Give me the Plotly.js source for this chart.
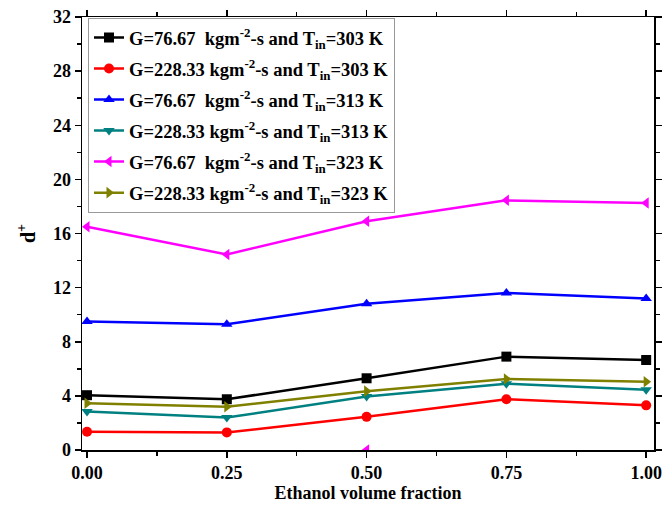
<!DOCTYPE html>
<html>
<head>
<meta charset="utf-8">
<script src="https://cdn.plot.ly/plotly-3.0.1.min.js"></script>
<style>body{margin:0;padding:0;background:#fff}#chart{width:672px;height:511px}</style>
</head>
<body>
<div id="chart"></div>
<script>
var fractions = [0.00, 0.25, 0.50, 0.75, 1.00];
var g7667_t303 = [4.05, 3.75, 5.30, 6.90, 6.65];
var g22833_t303 = [1.35, 1.30, 2.45, 3.75, 3.30];
var g7667_t313 = [9.50, 9.30, 10.80, 11.60, 11.20];
var g22833_t313 = [2.85, 2.40, 3.95, 4.90, 4.45];
var g7667_t323 = [16.50, 14.45, 16.90, 18.45, 18.25];
var g22833_t323 = [3.45, 3.20, 4.35, 5.25, 5.05];
var strayX = [0.50];
var strayY = [0.00];
var seriesNames = [
  "G=76.67&nbsp; kgm<sup>-2</sup>-s and T<sub>in</sub>=303 K",
  "G=228.33 kgm<sup>-2</sup>-s and T<sub>in</sub>=303 K",
  "G=76.67&nbsp; kgm<sup>-2</sup>-s and T<sub>in</sub>=313 K",
  "G=228.33 kgm<sup>-2</sup>-s and T<sub>in</sub>=313 K",
  "G=76.67&nbsp; kgm<sup>-2</sup>-s and T<sub>in</sub>=323 K",
  "G=228.33 kgm<sup>-2</sup>-s and T<sub>in</sub>=323 K"
];
var seriesValues = [g7667_t303, g22833_t303, g7667_t313, g22833_t313, g7667_t323, g22833_t323];
var colors = ["#000000", "#ff0000", "#0000ff", "#008080", "#ff00ff", "#808000"];
var symbols = ["square", "circle", "triangle-up", "triangle-down", "triangle-left", "triangle-right"];

var traces = seriesValues.map(function(v, i){
  return {
    x: fractions, y: v, name: seriesNames[i], type: "scatter", mode: "lines+markers",
    legendgroup: "g" + i,
    line: {color: colors[i], width: 2.5},
    marker: {symbol: symbols[i], size: 10, color: colors[i]},
    cliponaxis: false
  };
});
traces.push({
  x: strayX, y: strayY, type: "scatter", mode: "markers", showlegend: false,
  marker: {symbol: "triangle-left", size: 10, color: "#ff00ff"}, cliponaxis: true
});

var fnt = {family: "Liberation Serif, Times New Roman, serif", size: 16, color: "#000"};
var layout = {
  width: 672, height: 511,
  margin: {l: 82, r: 18, t: 17, b: 61},
  paper_bgcolor: "#fff", plot_bgcolor: "#fff",
  font: fnt,
  showlegend: true,
  legend: {
    x: 0.0105, y: 0.998, xanchor: "left", yanchor: "top",
    bordercolor: "#999", borderwidth: 1, bgcolor: "rgba(255,255,255,1)",
    font: {family: "Liberation Serif, serif", size: 18.5, color: "#000", weight: "bold"},
    tracegroupgap: 4
  },
  xaxis: {
    range: [-0.009, 1.014],
    tickvals: fractions, ticktext: ["0.00", "0.25", "0.50", "0.75", "1.00"],
    ticks: "outside", ticklen: 6, tickwidth: 1.5, tickcolor: "#000",
    minor: {tickvals: [0.125, 0.375, 0.625, 0.875], ticks: "outside", ticklen: 4, tickcolor: "#000", tickwidth: 1.5},
    showline: true, linecolor: "#000", linewidth: 1.5, mirror: "ticks",
    showgrid: false, zeroline: false,
    tickfont: {family: "Liberation Serif, serif", size: 18, color: "#000", weight: "bold"},
    title: {text: "Ethanol volume fraction", standoff: 4,
      font: {family: "Liberation Serif, serif", size: 18, color: "#000", weight: "bold"}}
  },
  yaxis: {
    range: [0, 32], tickvals: [0, 4, 8, 12, 16, 20, 24, 28, 32],
    ticks: "outside", ticklen: 6, tickwidth: 1.5, tickcolor: "#000",
    minor: {tickvals: [2, 6, 10, 14, 18, 22, 26, 30], ticks: "outside", ticklen: 4, tickcolor: "#000", tickwidth: 1.5},
    showline: true, linecolor: "#000", linewidth: 1.5, mirror: "ticks",
    showgrid: false, zeroline: false,
    tickfont: {family: "Liberation Serif, serif", size: 18, color: "#000", weight: "bold"},
    title: {text: "d<sup>+</sup>", standoff: 12,
      font: {family: "Liberation Serif, serif", size: 20, color: "#000", weight: "bold"}}
  }
};
Plotly.newPlot("chart", traces, layout, {displayModeBar: false, staticPlot: true});
</script>
</body>
</html>
